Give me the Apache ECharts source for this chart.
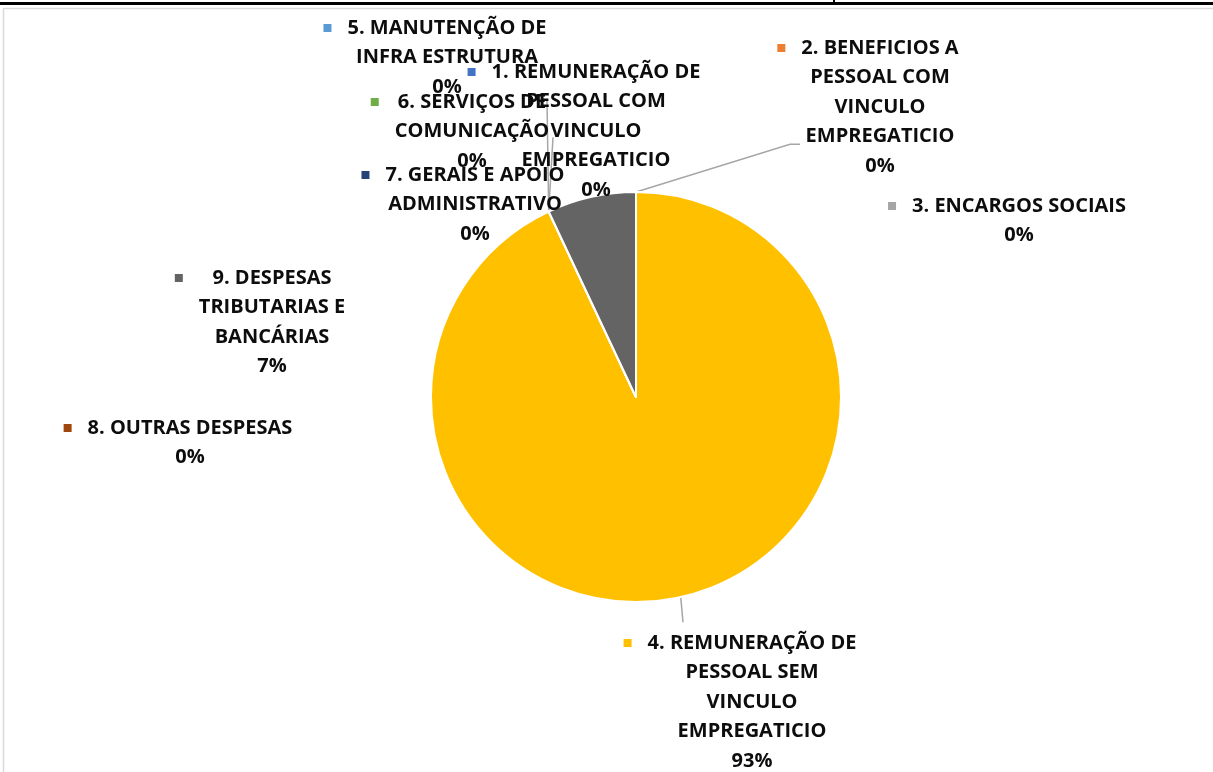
<!DOCTYPE html>
<html><head><meta charset="utf-8">
<script src="https://cdn.jsdelivr.net/npm/echarts@6/dist/echarts.min.js"></script>
<style>html,body{margin:0;padding:0;background:#fff}#c{width:1213px;height:772px}</style>
</head><body><div id="c"></div>
<script>
const categories = [
  '1. REMUNERAÇÃO DE\nPESSOAL COM\nVINCULO\nEMPREGATICIO',
  '2. BENEFICIOS A\nPESSOAL COM\nVINCULO\nEMPREGATICIO',
  '3. ENCARGOS SOCIAIS',
  '4. REMUNERAÇÃO DE\nPESSOAL SEM\nVINCULO\nEMPREGATICIO',
  '5. MANUTENÇÃO DE\nINFRA ESTRUTURA',
  '6. SERVIÇOS DE\nCOMUNICAÇÃO',
  '7. GERAIS E APOIO\nADMINISTRATIVO',
  '8. OUTRAS DESPESAS',
  '9. DESPESAS\nTRIBUTARIAS E\nBANCÁRIAS'
];
const values = [0, 0, 0, 93, 0, 0, 0, 0, 7];
const colors = ['#4472C4', '#ED7D31', '#A5A5A5', '#FFC000', '#5B9BD5', '#70AD47', '#264478', '#9E480E', '#646464'];

// label layout (center x of text block, y of first line centre)
const labelCenters = [[596, 72], [880, 48], [1019, 206], [752, 643], [447, 28], [472, 102], [475, 175], [190, 428], [272, 278]];
// leader line end relative to label centre x / box top [dx, dy, tail]
const leaders = [null, [-90, 111, 10], null, [-69, -6, 0], [100, 87, 0], [81, 50, 0], null, null, null];

const FONT_SIZE = 20, LINE_H = 29.5, FONT_FAMILY = 'Open Sans', SQ = 8, SQ_GAP = 16;
const ctx = document.createElement('canvas').getContext('2d');
ctx.font = 'bold ' + FONT_SIZE + 'px "' + FONT_FAMILY + '"';
const measure = s => ctx.measureText(s).width;

const total = values.reduce((a, b) => a + b, 0);
const data = categories.map((name, i) => {
  const lines = name.split('\n');
  const pct = Math.round(values[i] / total * 100) + '%';
  const widths = lines.concat([pct]).map(measure);
  const wmax = Math.max.apply(null, widths);
  const gap = (wmax - widths[0]) / 2 + SQ_GAP;
  return {
    name: name,
    value: values[i],
    itemStyle: { color: colors[i] },
    labelLine: { show: !!leaders[i] },
    label: {
      rich: {
        sq: { width: SQ, height: SQ, backgroundColor: colors[i], align: 'center', verticalAlign: 'middle', lineHeight: LINE_H },
        g: { width: gap, align: 'center', lineHeight: LINE_H },
        p: { width: SQ + gap, align: 'center', lineHeight: LINE_H }
      }
    }
  };
});

const chart = echarts.init(document.getElementById('c'), null, { renderer: 'canvas' });
chart.setOption({
  backgroundColor: '#ffffff',
  animation: false,
  graphic: [
    { type: 'rect', shape: { x: 0, y: 2, width: 1213, height: 3 }, style: { fill: '#000' }, silent: true },
    { type: 'rect', shape: { x: 833, y: 0, width: 2, height: 4 }, style: { fill: '#000' }, silent: true },
    { type: 'line', shape: { x1: 3, y1: 8.5, x2: 1213, y2: 8.5 }, style: { stroke: '#D9D9D9', lineWidth: 1.5 }, silent: true },
    { type: 'line', shape: { x1: 3.5, y1: 8.5, x2: 3.5, y2: 772 }, style: { stroke: '#D9D9D9', lineWidth: 1.5 }, silent: true }
  ],
  series: [{
    type: 'pie',
    center: [636, 397],
    radius: 205,
    startAngle: 90,
    clockwise: true,
    avoidLabelOverlap: false,
    minShowLabelAngle: 0,
    itemStyle: { borderColor: '#ffffff', borderWidth: 2 },
    label: {
      show: true,
      position: 'outside',
      fontFamily: FONT_FAMILY,
      fontWeight: 'bold',
      fontSize: FONT_SIZE,
      lineHeight: LINE_H,
      color: '#0D0D0D',
      align: 'center',
      formatter: function (p) {
        const lines = p.name.split('\n');
        const pct = Math.round(p.percent) + '%';
        return '{sq|}{g|}' + lines[0] + '{p|}' + (lines.length > 1 ? '\n' + lines.slice(1).join('\n') : '') + '\n' + pct;
      }
    },
    labelLine: { show: false, lineStyle: { color: '#A6A6A6', width: 1.5 } },
    labelLayout: function (p) {
      const i = p.dataIndex;
      const c = labelCenters[i];
      const top = c[1] - LINE_H / 2;
      const res = { x: c[0], y: top, align: 'center', verticalAlign: 'top' };
      const L = leaders[i];
      if (L && p.labelLinePoints) {
        const a = p.labelLinePoints[0];
        const e = [c[0] + L[0], top + L[1]];
        res.labelLinePoints = [a, e, [e[0] + L[2], e[1]]];
      }
      return res;
    },
    data: data
  }]
});
</script>
</body></html>
